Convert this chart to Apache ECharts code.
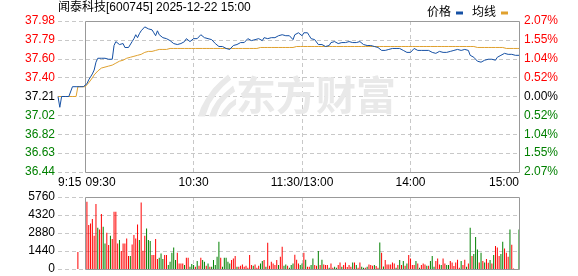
<!DOCTYPE html>
<html><head><meta charset="utf-8">
<script src="https://cdn.jsdelivr.net/npm/echarts@6/dist/echarts.min.js"></script>
<style>html,body{margin:0;padding:0;background:#fff}#c{width:578px;height:276px}</style>
</head><body><div id="c"></div>
<script>
const titleText = '闻泰科技[600745] 2025-12-22 15:00';
const prevClose = 37.21;
const priceTicks = ['36.44','36.63','36.82','37.02','37.21','37.40','37.60','37.79','37.98'];
const pctTicks = ['2.07%','1.55%','1.04%','0.52%','0.00%','0.52%','1.04%','1.55%','2.07%'];
const volTicks = ['0','1440','2880','4320','5760'];
const labelTimes = ['09:15','09:30','10:30','11:30','14:00','15:00'];
const labelTexts = ['9:15','09:30','10:30','11:30/13:00','14:00','15:00'];
const gridTimes = ['10:30','11:30','14:00'];

// minute prices 09:15 .. 15:00 (256 points)
const prices = [
37.21,37.10,37.21,37.21,37.21,37.21,37.21,37.21,37.31,37.31,
37.31,37.31,37.31,37.31,37.31,37.31,37.34,37.38,37.41,37.44,
37.48,37.56,37.60,37.61,37.60,37.58,37.60,37.59,37.59,37.61,
37.59,37.73,37.77,37.77,37.74,37.74,37.75,37.71,37.73,37.71,
37.72,37.77,37.80,37.84,37.81,37.85,37.88,37.90,37.92,37.91,
37.90,37.88,37.89,37.86,37.83,37.88,37.84,37.82,37.81,37.81,
37.80,37.79,37.78,37.76,37.75,37.74,37.74,37.75,37.75,37.76,
37.77,37.80,37.80,37.77,37.79,37.80,37.81,37.80,37.82,37.84,
37.82,37.81,37.80,37.80,37.79,37.79,37.77,37.75,37.74,37.72,
37.72,37.72,37.71,37.70,37.69,37.69,37.70,37.73,37.71,37.74,
37.75,37.76,37.76,37.76,37.77,37.80,37.78,37.78,37.80,37.79,
37.78,37.80,37.79,37.78,37.81,37.81,37.80,37.79,37.81,37.81,
37.81,37.82,37.83,37.85,37.84,37.83,37.83,37.83,37.83,37.81,
37.79,37.84,37.86,37.86,37.85,37.83,37.86,37.87,37.86,37.83,
37.80,37.78,37.79,37.78,37.74,37.73,37.74,37.72,37.72,37.72,
37.73,37.76,37.78,37.77,37.75,37.75,37.76,37.76,37.76,37.76,
37.77,37.77,37.77,37.76,37.75,37.76,37.76,37.77,37.76,37.74,
37.74,37.73,37.73,37.73,37.72,37.72,37.72,37.71,37.70,37.68,
37.67,37.68,37.69,37.69,37.70,37.70,37.71,37.70,37.70,37.70,
37.69,37.68,37.67,37.66,37.66,37.66,37.68,37.70,37.69,37.68,
37.68,37.68,37.68,37.68,37.68,37.68,37.67,37.66,37.65,37.65,
37.67,37.67,37.65,37.66,37.66,37.66,37.66,37.67,37.68,37.68,
37.69,37.69,37.68,37.68,37.70,37.69,37.69,37.68,37.63,37.63,
37.61,37.59,37.57,37.58,37.56,37.57,37.58,37.58,37.59,37.59,
37.59,37.58,37.58,37.61,37.62,37.63,37.64,37.65,37.64,37.64,
37.62,37.64,37.64,37.63,37.63,37.63
];
const avgPrices = [
37.21,37.21,37.21,37.21,37.21,37.21,37.21,37.21,37.21,37.21,
37.21,37.31,37.31,37.31,37.31,37.31,37.32,37.35,37.37,37.40,
37.43,37.45,37.47,37.49,37.50,37.51,37.51,37.52,37.52,37.53,
37.53,37.54,37.55,37.56,37.57,37.58,37.58,37.59,37.60,37.60,
37.61,37.61,37.62,37.62,37.63,37.64,37.64,37.65,37.66,37.66,
37.67,37.67,37.67,37.68,37.68,37.68,37.69,37.69,37.69,37.69,
37.69,37.70,37.70,37.70,37.70,37.70,37.70,37.70,37.70,37.70,
37.70,37.70,37.70,37.70,37.70,37.70,37.70,37.70,37.70,37.70,
37.70,37.70,37.70,37.70,37.70,37.70,37.70,37.70,37.70,37.70,
37.70,37.70,37.70,37.70,37.70,37.70,37.70,37.70,37.70,37.70,
37.70,37.70,37.70,37.70,37.70,37.70,37.70,37.70,37.70,37.70,
37.70,37.71,37.71,37.71,37.71,37.71,37.71,37.71,37.71,37.71,
37.71,37.71,37.71,37.71,37.71,37.71,37.71,37.71,37.71,37.71,
37.71,37.72,37.72,37.72,37.72,37.72,37.72,37.72,37.72,37.72,
37.72,37.72,37.72,37.72,37.72,37.72,37.72,37.72,37.72,37.72,
37.72,37.72,37.72,37.72,37.72,37.72,37.72,37.72,37.72,37.72,
37.72,37.72,37.72,37.72,37.72,37.72,37.72,37.72,37.72,37.72,
37.72,37.72,37.72,37.72,37.72,37.72,37.72,37.72,37.72,37.72,
37.72,37.72,37.72,37.72,37.72,37.72,37.72,37.72,37.72,37.72,
37.72,37.72,37.72,37.72,37.72,37.72,37.72,37.72,37.72,37.72,
37.72,37.72,37.72,37.72,37.72,37.72,37.72,37.72,37.72,37.72,
37.72,37.72,37.72,37.72,37.72,37.72,37.72,37.72,37.72,37.72,
37.72,37.72,37.72,37.72,37.72,37.72,37.72,37.72,37.72,37.72,
37.72,37.71,37.71,37.71,37.71,37.71,37.71,37.71,37.71,37.71,
37.71,37.71,37.71,37.71,37.71,37.71,37.71,37.70,37.70,37.70,
37.70,37.70,37.70,37.70,37.70,37.70
];
const volumes = [
0,0,0,0,0,0,0,0,0,0,
0,1360,0,0,0,0,5390,3520,3650,4000,
2670,5200,3310,3170,4400,3390,2050,2910,1920,2670,
2400,4590,4590,2050,2320,1440,2050,2050,2450,1040,
1040,1970,2720,2450,3570,2320,5330,1470,2670,3250,
2320,2240,1120,1120,2400,800,910,1250,800,1120,
1120,320,590,1310,1730,720,1310,450,450,450,
320,910,910,190,400,320,190,640,270,910,
720,590,270,450,190,190,720,320,990,2190,
910,190,910,910,590,450,720,850,1040,190,
190,270,370,190,270,110,1120,320,270,370,
110,270,450,640,720,190,2110,270,590,450,
320,720,320,990,1790,270,370,270,110,320,
450,1150,750,450,320,450,1310,750,190,190,
320,850,320,270,1440,320,750,370,320,320,
110,450,110,190,110,320,530,190,320,530,
160,320,190,530,530,320,110,530,190,110,
110,190,370,320,270,320,240,110,2130,1310,
210,720,370,370,370,530,450,110,320,720,
320,640,270,450,1120,850,320,320,640,450,
110,320,450,370,270,270,640,1040,190,640,
850,370,320,850,450,320,320,640,530,240,
530,750,110,640,320,750,190,450,3310,1040,
1200,2560,1570,530,1310,640,530,800,510,720,
450,1120,1840,1730,1040,1200,2190,1650,1310,990,
3170,1950,50,0,0,3170
];
// 1 = up (red), -1 = down (green)
const volDir = [
0,0,0,0,0,0,0,0,0,0,
0,1,0,0,0,0,1,1,1,1,
1,1,-1,1,1,-1,-1,1,1,-1,
1,1,1,1,-1,1,1,1,1,1,
-1,1,1,1,1,-1,1,1,1,-1,
-1,-1,1,1,1,1,-1,-1,-1,1,
1,-1,-1,-1,-1,-1,1,1,1,1,
-1,1,1,-1,-1,-1,1,-1,1,1,
-1,-1,1,-1,1,-1,-1,-1,-1,-1,
1,-1,-1,-1,-1,-1,1,1,1,-1,
1,1,1,1,1,1,1,1,-1,1,
1,1,-1,-1,1,-1,1,1,1,1,
1,1,-1,1,1,-1,-1,1,-1,-1,
-1,1,1,1,-1,-1,1,-1,1,1,
-1,-1,1,1,-1,1,-1,1,1,1,
-1,1,1,-1,-1,1,1,-1,1,1,
1,1,1,-1,1,-1,1,1,-1,-1,
1,-1,1,1,1,-1,1,1,-1,1,
-1,1,1,1,1,1,1,-1,1,-1,
1,-1,1,-1,1,1,1,1,-1,1,
-1,1,1,1,-1,1,-1,-1,-1,1,
1,1,-1,1,1,-1,-1,1,1,1,
1,1,1,-1,1,1,-1,1,-1,1,
-1,-1,-1,1,-1,1,-1,1,1,-1,
1,-1,1,1,1,-1,-1,1,1,1,
-1,1,1,0,0,-1
];

// minute categories
function hm(t){const h=Math.floor(t/60),m=t%60;return String(h).padStart(2,'0')+':'+String(m).padStart(2,'0');}
const times=[];
for(let t=9*60+15;t<=9*60+30;t++) times.push(hm(t));
for(let t=9*60+31;t<=11*60+30;t++) times.push(hm(t));
for(let t=13*60+1;t<=15*60;t++) times.push(hm(t));

const RED='#ff0000', GREEN='#008000';
const FONT='Arial, "Liberation Sans", "Noto Sans CJK SC", sans-serif';
const toCents = p => Math.round((p - prevClose) * 100);
const RANGE = 77, STEP = 19.25;

const chart = echarts.init(document.getElementById('c'), null, {renderer:'canvas'});
const dashed = {show:true, lineStyle:{color:'#c8c8c8', type:[4,3], width:1}};
const xSplit = {show:true, interval:(i,v)=>gridTimes.includes(v), lineStyle:{color:'#c8c8c8', type:[4,3], width:1}};
const tickColor = v => v > 0.001 ? RED : (v < -0.001 ? GREEN : '#000');
const tickIdx = v => Math.round((v + RANGE) / STEP);

const option = {
  animation:false,
  backgroundColor:'#fff',
  title:{text:titleText, left:58, top:2, padding:0,
    textStyle:{fontSize:12, fontWeight:'normal', color:'#000', fontFamily:FONT}},
  legend:{right:65, top:2, align:'right', itemWidth:7, itemHeight:3, itemGap:9,
    textStyle:{fontSize:12, color:'#000', fontFamily:FONT},
    data:[{name:'价格', icon:'rect'},{name:'均线', icon:'rect'}]},
  grid:[
    {left:58, right:59, top:21, height:151},
    {left:58, right:59, top:197, height:72}
  ],
  xAxis:[
    {type:'category', gridIndex:0, data:times, boundaryGap:false,
     axisLine:{show:false}, axisTick:{show:false},
     axisLabel:{interval:(i,v)=>labelTimes.includes(v), margin:5,
       fontSize:12, color:'#000', fontFamily:FONT,
       alignMinLabel:'left', alignMaxLabel:'right',
       formatter:(v)=>{const t=labelTexts[labelTimes.indexOf(v)]; return v==='09:30' ? '{s|'+t+'}' : t;},
       rich:{s:{padding:[0,0,0,31], fontSize:12, color:'#000', fontFamily:FONT}}},
     splitLine:xSplit},
    {type:'category', gridIndex:1, data:times, boundaryGap:false,
     axisLine:{show:false}, axisTick:{show:false}, axisLabel:{show:false},
     splitLine:xSplit}
  ],
  yAxis:[
    {type:'value', gridIndex:0, position:'left', min:-RANGE, max:RANGE, interval:STEP,
     axisLine:{show:false}, axisTick:{show:false}, splitLine:dashed,
     axisLabel:{margin:3, fontSize:12, fontFamily:FONT,
       formatter:v=>priceTicks[tickIdx(v)], color:v=>tickColor(v)}},
    {type:'value', gridIndex:0, position:'right', min:-RANGE, max:RANGE, interval:STEP,
     axisLine:{show:false}, axisTick:{show:false}, splitLine:{show:false},
     axisLabel:{margin:5, fontSize:12, fontFamily:FONT,
       formatter:v=>pctTicks[tickIdx(v)], color:v=>tickColor(v)}},
    {type:'value', gridIndex:1, position:'left', min:0, max:5760, interval:1440,
     axisLine:{show:false}, axisTick:{show:false}, splitLine:dashed,
     axisLabel:{margin:3, fontSize:12, fontFamily:FONT, color:'#000',
       formatter:v=>volTicks[Math.round(v/1440)]}}
  ],
  series:[
    {name:'价格', type:'line', xAxisIndex:0, yAxisIndex:0, data:prices.map(toCents),
     showSymbol:false, symbol:'none', color:'#1550a4', lineStyle:{width:1, color:'#1550a4'}, z:5},
    {name:'均线', type:'line', xAxisIndex:0, yAxisIndex:0, data:avgPrices.map(toCents),
     showSymbol:false, symbol:'none', color:'#e0a12e', lineStyle:{width:1, color:'#e0a12e'}, z:4},
    {name:'成交量', type:'bar', xAxisIndex:1, yAxisIndex:2, barWidth:1,
     data:volumes.map((v,i)=>({value:v, itemStyle:{color: volDir[i] < 0 ? GREEN : RED}}))}
  ]
};
chart.setOption(option);

const xa = Math.round(chart.convertToPixel({xAxisIndex:0}, '09:30')) + 0.5;
const xb = Math.round(chart.convertToPixel({xAxisIndex:0}, '15:00')) + 0.5;
const yT = Math.round(chart.convertToPixel({yAxisIndex:0}, RANGE)) + 0.5;
const yB = Math.round(chart.convertToPixel({yAxisIndex:0}, -RANGE)) + 0.5;
const vT = Math.round(chart.convertToPixel({yAxisIndex:2}, 5760)) + 0.5;
const vB = Math.round(chart.convertToPixel({yAxisIndex:2}, 0)) + 0.5;
const cx = chart.convertToPixel({xAxisIndex:0}, '11:30');
const cy = chart.convertToPixel({yAxisIndex:0}, 0);
const WM = '#e9e9e9';
const ox = cx - 104, oy = cy - 22;
const stripes = [
  [[0,42],[3,33],[8,24],[15,14],[22,7],[30,0],[33,5],[25,12],[18,20],[12,29],[7,42]],
  [[11,42],[14,34],[19,26],[26,19],[35,11],[37,17],[29,23],[23,30],[20,36],[18,42]],
  [[22,42],[25,36],[31,29],[38,24],[38,30],[33,34],[30,38],[29,42]]
];
const gfx = [
  {type:'text', z:0, x:cx-66, y:cy-22,
   style:{text:'东方财富', fontSize:40, fontWeight:'bold', fill:WM, fontFamily:'"Noto Sans CJK SC", sans-serif'}}
];
stripes.forEach(s => gfx.push({type:'polygon', z:0, shape:{points:s.map(p=>[ox+p[0], oy+p[1]])}, style:{fill:WM}}));
gfx.push({type:'rect', z:3, shape:{x:xa, y:yT, width:xb-xa, height:yB-yT}, style:{fill:null, stroke:'#999', lineWidth:1}});
gfx.push({type:'rect', z:3, shape:{x:xa, y:vT, width:xb-xa, height:vB-vT}, style:{fill:null, stroke:'#999', lineWidth:1}});
chart.setOption({graphic:gfx});
</script>
</body></html>
